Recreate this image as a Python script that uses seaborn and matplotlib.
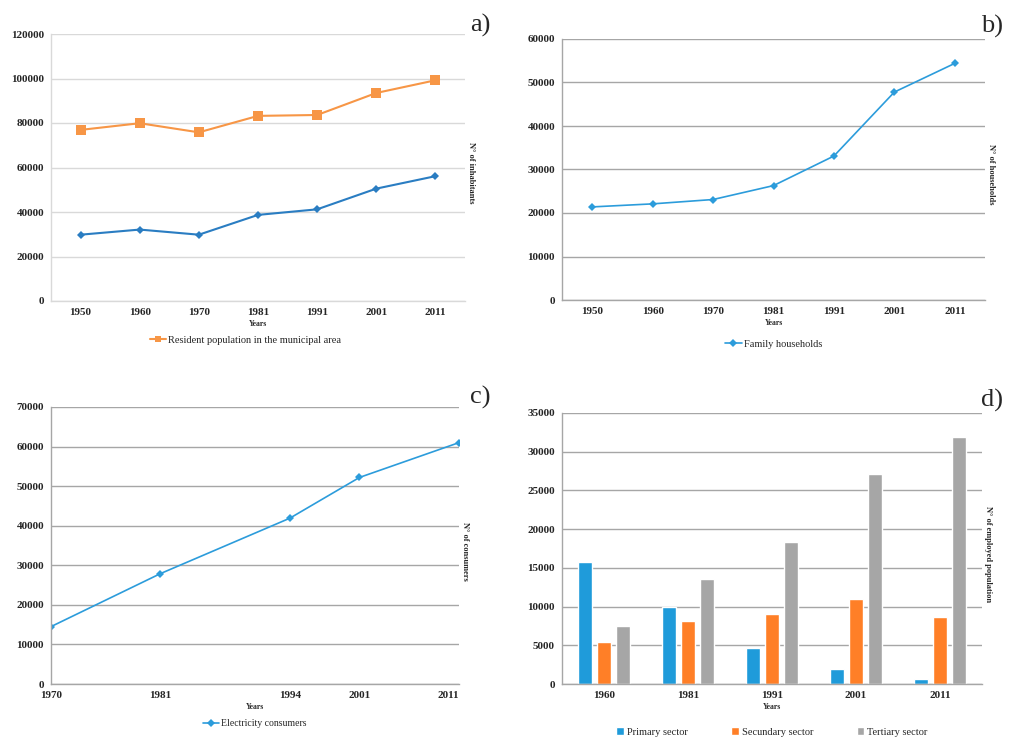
import matplotlib
matplotlib.use("Agg")
import matplotlib.pyplot as plt
import seaborn as sns
import pandas as pd

# a) resident population
years_a = ["1950", "1960", "1970", "1981", "1991", "2001", "2011"]
pop_municipal = [76900, 79900, 75800, 83200, 83600, 93500, 99200]
pop_other = [29800, 32100, 29800, 38700, 41200, 50500, 56100]

# b) family households
years_b = ["1950", "1960", "1970", "1981", "1991", "2001", "2011"]
households = [21400, 22100, 23100, 26300, 33100, 47800, 54400]

# c) electricity consumers
years_c = [1970, 1981, 1994, 2001, 2011]
consumers = [14500, 27900, 41900, 52200, 61000]

# d) employed population by sector
years_d = ["1960", "1981", "1991", "2001", "2011"]
primary = [15700, 10000, 4600, 1900, 700]
secondary = [5400, 8200, 9100, 11000, 8600]
tertiary = [7500, 13500, 18300, 27100, 31900]
sectors = ["Primary sector", "Secundary sector", "Tertiary sector"]

sns.set_style("white")
plt.rcParams['font.family'] = ['Liberation Serif', 'DejaVu Serif']

TICK_FS = 8
GRID_DARK = "#A6A6A6"
GRID_LIGHT = "#D9D9D9"


def style_axes(ax, grid_color, ylabel, ymax, step):
    ax.set_ylim(0, ymax)
    ax.set_yticks(range(0, ymax + 1, step))
    ax.yaxis.grid(True, color=grid_color, linewidth=1)
    ax.xaxis.grid(False)
    ax.set_axisbelow(True)
    for s in ["top", "right"]:
        ax.spines[s].set_visible(False)
    for s in ["left", "bottom"]:
        ax.spines[s].set_color(grid_color)
        ax.spines[s].set_linewidth(1)
    ax.tick_params(axis="both", length=0, labelsize=TICK_FS, pad=5)
    for lab in ax.get_xticklabels() + ax.get_yticklabels():
        lab.set_fontweight("bold")
    ax.set_xlabel("Years", fontsize=5.5, fontweight="bold", labelpad=2)
    ax.set_ylabel("")
    ax.text(1.005, 0.48, ylabel, transform=ax.transAxes, rotation=270,
            ha="left", va="center", fontsize=6, fontweight="bold")


fig = plt.figure(figsize=(10.24, 7.52), dpi=100)

# ---- a)
ax = fig.add_axes([51 / 1024, 1 - 301 / 752, 414 / 1024, 267 / 752])
sns.lineplot(x=years_a, y=pop_other, ax=ax, color="#2A7DC2", marker="D",
             markersize=4, markeredgewidth=0, linewidth=1.5, sort=False)
sns.lineplot(x=years_a, y=pop_municipal, ax=ax, color="#F79646", marker="s",
             markersize=6.5, markeredgewidth=0, linewidth=1.5, sort=False,
             label="Resident population in the municipal area")
ax.set_xlim(-0.5, 6.5)
style_axes(ax, GRID_LIGHT, "N° of inhabitants", 120000, 20000)
ax.legend(loc="upper center", bbox_to_anchor=(0.47, -0.095), frameon=False,
          fontsize=7.5, handlelength=1.6, handletextpad=0.2, markerscale=0.7)

# ---- b)
ax = fig.add_axes([562 / 1024, 1 - 300 / 752, 423 / 1024, 261 / 752])
sns.lineplot(x=years_b, y=households, ax=ax, color="#2C9CDB", marker="D",
             markersize=4, markeredgewidth=0, linewidth=1.2, sort=False,
             label="Family households")
ax.set_xlim(-0.5, 6.5)
style_axes(ax, GRID_DARK, "N° of households", 60000, 10000)
ax.legend(loc="upper center", bbox_to_anchor=(0.5, -0.115), frameon=False,
          fontsize=7.5, handlelength=1.6, handletextpad=0.2)

# ---- c)
ax = fig.add_axes([51 / 1024, 1 - 684 / 752, 408 / 1024, 277 / 752])
sns.lineplot(x=years_c, y=consumers, ax=ax, color="#2C9CDB", marker="D",
             markersize=4, markeredgewidth=0, linewidth=1.2,
             label="Electricity consumers")
ax.set_xlim(1970, 2011)
ax.set_xticks(years_c)
style_axes(ax, GRID_DARK, "N° of consumers", 70000, 10000)
ax.get_xticklabels()[-1].set_horizontalalignment("right")
ax.legend(loc="upper center", bbox_to_anchor=(0.5, -0.095), frameon=False,
          fontsize=7, handlelength=1.6, handletextpad=0.2)

# ---- d)
df_d = pd.DataFrame({
    "year": years_d * 3,
    "value": primary + secondary + tertiary,
    "sector": [sectors[0]] * 5 + [sectors[1]] * 5 + [sectors[2]] * 5,
})
ax = fig.add_axes([562 / 1024, 1 - 684 / 752, 420 / 1024, 271 / 752])
sns.barplot(data=df_d, x="year", y="value", hue="sector", ax=ax,
            palette=["#1F9BDA", "#FF7F27", "#A6A6A6"], width=0.67, gap=0.25,
            saturation=1, errorbar=None)
ax.set_xlim(-0.5, 4.5)
style_axes(ax, GRID_DARK, "N° of employed population", 35000, 5000)
ax.legend(loc="upper center", bbox_to_anchor=(0.5, -0.125), frameon=False,
          fontsize=7.5, ncol=3, columnspacing=4.2, handlelength=0.7,
          handleheight=0.7, handletextpad=0.3)

# panel tags
for tag, px, py in [("a)", 480, 25), ("b)", 992, 26),
                    ("c)", 480, 397), ("d)", 992, 400)]:
    fig.text(px / 1024, 1 - py / 752, tag, ha="center", va="center",
             fontsize=19)

fig.savefig("out.png", dpi=100)
